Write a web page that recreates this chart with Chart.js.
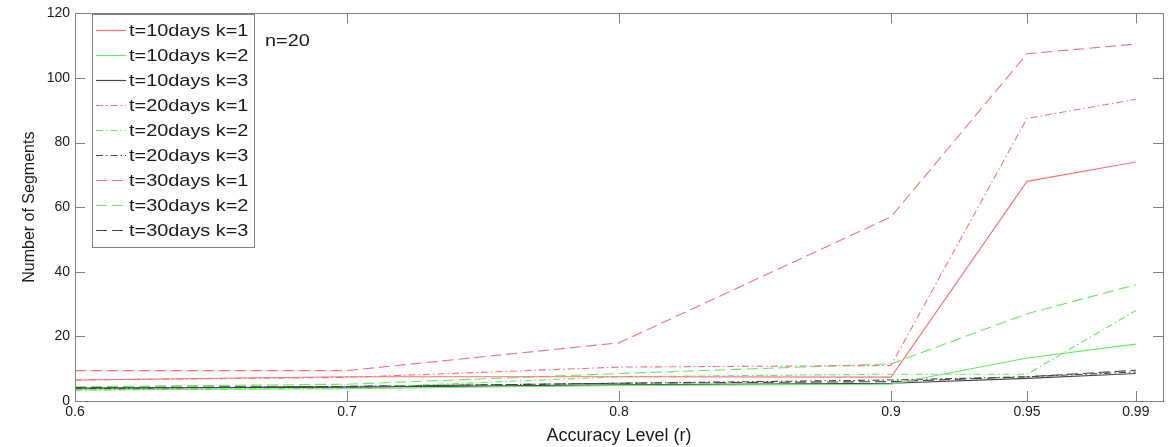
<!DOCTYPE html>
<html><head><meta charset="utf-8">
<script src="https://cdn.jsdelivr.net/npm/chart.js@4.4.0/dist/chart.umd.min.js"></script>
<style>html,body{margin:0;padding:0;background:#fff;overflow:hidden}#wrap{width:1171px;height:447px}</style>
</head><body><div id="wrap"><canvas id="c" width="1171" height="447"></canvas></div>
<script>
// ---- data ----
const accuracyLevels = [0.6, 0.7, 0.8, 0.9, 0.95, 0.99];
const xTickLabels = ['0.6', '0.7', '0.8', '0.9', '0.95', '0.99'];
const yTickValues = [0, 20, 40, 60, 80, 100, 120];
const seriesLabels = ['t=10days k=1','t=10days k=2','t=10days k=3','t=20days k=1','t=20days k=2','t=20days k=3','t=30days k=1','t=30days k=2','t=30days k=3'];
const t10k1 = [6.5, 7.5, 7.5, 7.4, 68, 74];
const t10k2 = [3.5, 3.8, 4.8, 5.2, 13.3, 17.6];
const t10k3 = [4.0, 4.3, 5.0, 5.5, 7.0, 8.5];
const t20k1 = [6.5, 7.3, 10.5, 11, 87.5, 93.4];
const t20k2 = [3.3, 4.0, 7.5, 8.3, 8.3, 28];
const t20k3 = [3.8, 4.5, 5.5, 6.5, 7.5, 9.0];
const t30k1 = [9.4, 9.4, 18, 57, 107.5, 110.5];
const t30k2 = [4.4, 5.2, 8.5, 11.5, 27, 36];
const t30k3 = [4.2, 4.5, 5.5, 6.0, 7.5, 9.5];
const nLabel = 'n=20';

// ---- styles ----
const RED = 'rgb(250,115,115)', GREEN = 'rgb(100,235,100)', DARK = 'rgb(70,70,70)';
const SOLID = [], DASHDOT = [7, 3, 1.5, 3], DASHED = [11, 5];
const seriesData = [t10k1, t10k2, t10k3, t20k1, t20k2, t20k3, t30k1, t30k2, t30k3];
const seriesColors = [RED, GREEN, DARK, RED, GREEN, DARK, RED, GREEN, DARK];
const seriesDash = [SOLID, SOLID, SOLID, DASHDOT, DASHDOT, DASHDOT, DASHED, DASHED, DASHED];

const datasets = seriesData.map((arr, i) => ({
  label: seriesLabels[i],
  data: arr.map((v, j) => ({x: accuracyLevels[j], y: v})),
  borderColor: seriesColors[i],
  backgroundColor: seriesColors[i],
  borderDash: seriesDash[i],
  borderWidth: 1.1,
  pointRadius: 0,
  tension: 0,
  fill: false
}));

const FONT = "'Liberation Sans', Arial, sans-serif";

const framePlugin = {
  id: 'frame',
  afterDatasetsDraw(chart) {
    const {ctx, chartArea: a, scales: {x, y}} = chart;
    ctx.save();
    ctx.strokeStyle = 'rgb(128,128,128)';
    ctx.lineWidth = 1;
    ctx.setLineDash([]);
    ctx.strokeRect(Math.round(a.left) + 0.5, Math.round(a.top) + 0.5, Math.round(a.right - a.left), Math.round(a.bottom - a.top));
    const TL = 10;
    ctx.beginPath();
    accuracyLevels.forEach(v => {
      const px = Math.round(x.getPixelForValue(v)) + 0.5;
      ctx.moveTo(px, a.bottom); ctx.lineTo(px, a.bottom - TL);
      ctx.moveTo(px, a.top); ctx.lineTo(px, a.top + TL);
    });
    yTickValues.forEach(v => {
      const py = Math.round(y.getPixelForValue(v)) + 0.5;
      ctx.moveTo(a.left, py); ctx.lineTo(a.left + TL, py);
      ctx.moveTo(a.right, py); ctx.lineTo(a.right - TL, py);
    });
    ctx.stroke();

    // legend box
    const L = 92, T = 14, R = 254, B = 247;
    ctx.fillStyle = '#fff';
    ctx.fillRect(L, T, R - L, B - T);
    ctx.strokeStyle = 'rgb(128,128,128)';
    ctx.strokeRect(L + 0.5, T + 0.5, R - L, B - T);
    ctx.font = '17px ' + FONT;
    ctx.textBaseline = 'middle';
    ctx.textAlign = 'left';
    const SX = 1.17;
    chart.data.datasets.forEach((ds, i) => {
      const cy = 30 + i * 25;
      ctx.strokeStyle = ds.borderColor;
      ctx.lineWidth = 1.2;
      ctx.setLineDash(ds.borderDash);
      ctx.beginPath();
      ctx.moveTo(96, cy + 0.5); ctx.lineTo(126, cy + 0.5);
      ctx.stroke();
      ctx.setLineDash([]);
      ctx.fillStyle = '#1a1a1a';
      ctx.save();
      ctx.translate(129, cy + 1);
      ctx.scale(SX, 1);
      ctx.fillText(ds.label, 0, 0);
      ctx.restore();
    });
    ctx.fillStyle = '#1a1a1a';
    ctx.save();
    ctx.translate(265, 41);
    ctx.scale(SX, 1);
    ctx.fillText(nLabel, 0, 0);
    ctx.restore();
    ctx.restore();
  }
};

new Chart(document.getElementById('c'), {
  type: 'line',
  data: {datasets},
  plugins: [framePlugin],
  options: {
    responsive: false,
    devicePixelRatio: 1,
    animation: false,
    layout: {padding: {top: 13, right: 8, left: 0, bottom: 0}},
    plugins: {legend: {display: false}, tooltip: {enabled: false}},
    scales: {
      x: {
        type: 'linear', min: 0.6, max: 1.0,
        afterBuildTicks: s => { s.ticks = accuracyLevels.map(v => ({value: v})); },
        afterFit: s => { s.height = 46; },
        ticks: {
          autoSkip: false, maxRotation: 0, padding: 3, color: '#1a1a1a',
          font: {family: FONT, size: 14},
          callback: (v, i) => xTickLabels[i]
        },
        grid: {display: false, drawTicks: false, tickLength: 0},
        border: {display: false},
        title: {display: true, text: 'Accuracy Level (r)', color: '#1a1a1a', font: {family: FONT, size: 18}, padding: {top: 0, bottom: 0}}
      },
      y: {
        min: 0, max: 120,
        afterBuildTicks: s => { s.ticks = yTickValues.map(v => ({value: v})); },
        afterFit: s => { s.width = 75; },
        ticks: {padding: 5, color: '#1a1a1a', font: {family: FONT, size: 14}},
        grid: {display: false, drawTicks: false, tickLength: 0},
        border: {display: false},
        title: {display: true, text: 'Number of Segments', color: '#1a1a1a', font: {family: FONT, size: 16}, padding: {top: 20, bottom: 0}}
      }
    }
  }
});
</script>
</body></html>
